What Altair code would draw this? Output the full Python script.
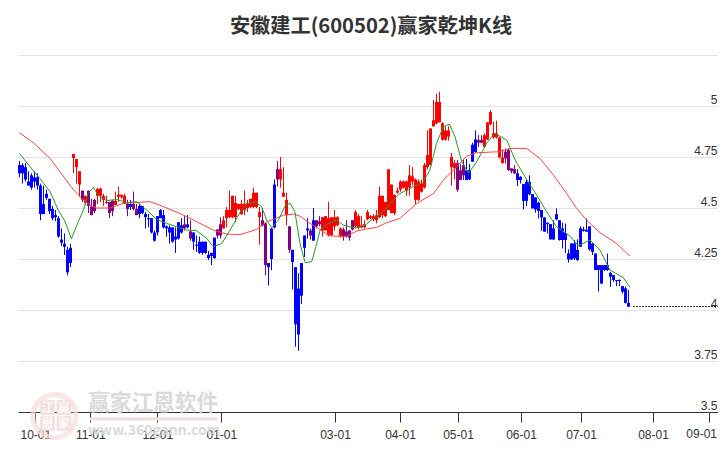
import altair as alt
import pandas as pd

TITLE = "安徽建工(600502)赢家乾坤K线"
FONT = "Noto Sans CJK SC"
LATIN = "Liberation Sans"

body_top = [4.71,4.71,4.70,4.63,4.66,4.65,4.65,4.61,4.52,4.57,4.545,4.495,4.465,4.45,4.345,4.325,4.295,4.305,
4.765,4.74,4.68,4.585,4.56,4.585,4.505,4.54,4.595,4.595,4.56,4.53,4.53,4.535,4.535,4.565,4.565,4.56,4.52,4.52,4.52,4.495,
4.51,4.51,4.47,4.45,4.45,4.38,4.46,4.49,4.465,4.41,4.405,4.405,4.36,4.43,4.415,4.42,4.42,4.385,4.38,4.32,
4.335,4.335,4.335,4.27,4.28,4.355,4.395,4.42,4.44,4.49,4.49,4.56,4.525,4.52,4.52,4.52,4.525,4.545,4.575,4.575,
4.48,4.44,4.425,4.23,4.40,4.615,4.69,4.69,4.575,4.54,4.41,4.295,4.21,4.105,4.23,4.365,4.40,4.39,4.44,4.44,
4.435,4.455,4.46,4.45,4.455,4.455,4.455,4.40,4.395,4.385,4.39,4.44,4.48,4.46,4.415,4.42,4.48,4.46,4.46,4.465,
4.56,4.56,4.53,4.69,4.615,4.565,4.585,4.63,4.63,4.63,4.66,4.655,4.64,4.63,4.62,4.71,4.76,4.89,4.93,5.02,
5.02,4.915,4.88,4.88,4.75,4.72,4.72,4.685,4.71,4.685,4.685,4.81,4.836,4.833,4.833,4.857,4.92,4.97,4.866,4.866,
4.846,4.748,4.776,4.784,4.694,4.69,4.67,4.653,4.617,4.628,4.628,4.568,4.552,4.526,4.49,4.454,4.428,4.421,4.40,4.47,
4.44,4.40,4.378,4.277,4.326,4.326,4.294,4.40,4.395,4.392,4.41,4.326,4.277,4.22,4.22,4.22,4.22,4.182,4.171,4.147,
4.147,4.117,4.106,4.035]
body_bot = [4.67,4.67,4.64,4.61,4.60,4.63,4.61,4.47,4.47,4.55,4.485,4.45,4.455,4.36,4.33,4.31,4.185,4.23,
4.745,4.70,4.615,4.54,4.525,4.51,4.465,4.485,4.56,4.56,4.54,4.525,4.475,4.485,4.515,4.555,4.555,4.52,4.495,4.505,4.495,4.465,
4.47,4.475,4.455,4.445,4.38,4.34,4.38,4.45,4.405,4.40,4.38,4.335,4.345,4.35,4.38,4.40,4.405,4.35,4.335,4.315,
4.28,4.28,4.28,4.255,4.265,4.255,4.365,4.365,4.40,4.45,4.455,4.455,4.455,4.495,4.47,4.49,4.50,4.505,4.505,4.505,
4.455,4.415,4.22,4.21,4.25,4.405,4.64,4.64,4.555,4.465,4.295,4.235,3.93,3.88,4.07,4.305,4.39,4.365,4.34,4.41,
4.42,4.39,4.39,4.365,4.365,4.41,4.415,4.36,4.36,4.36,4.355,4.395,4.41,4.405,4.405,4.405,4.445,4.45,4.445,4.44,
4.455,4.465,4.46,4.49,4.475,4.475,4.575,4.59,4.60,4.585,4.60,4.63,4.54,4.54,4.58,4.60,4.70,4.71,4.90,4.915,
4.92,4.835,4.835,4.85,4.70,4.695,4.59,4.637,4.66,4.637,4.64,4.727,4.775,4.82,4.82,4.80,4.836,4.91,4.846,4.846,
4.748,4.72,4.743,4.686,4.68,4.67,4.637,4.637,4.535,4.535,4.568,4.498,4.493,4.486,4.454,4.384,4.421,4.346,4.346,4.444,
4.343,4.343,4.343,4.248,4.248,4.253,4.245,4.31,4.388,4.384,4.297,4.285,4.196,4.196,4.13,4.196,4.196,4.163,4.147,4.142,
4.142,4.09,4.035,4.016]
high = [4.73,4.72,4.72,4.68,4.67,4.68,4.67,4.62,4.61,4.59,4.545,4.51,4.49,4.46,4.40,4.375,4.31,4.325,
4.765,4.74,4.68,4.585,4.56,4.585,4.545,4.545,4.595,4.60,4.57,4.56,4.53,4.54,4.58,4.605,4.565,4.57,4.54,4.54,4.58,4.52,
4.52,4.51,4.48,4.47,4.45,4.39,4.46,4.495,4.49,4.415,4.415,4.405,4.405,4.43,4.45,4.46,4.465,4.44,4.38,4.365,
4.36,4.335,4.335,4.29,4.28,4.355,4.395,4.455,4.46,4.505,4.585,4.56,4.56,4.52,4.54,4.585,4.54,4.545,4.60,4.575,
4.505,4.50,4.43,4.23,4.40,4.64,4.73,4.75,4.70,4.575,4.41,4.295,4.21,4.18,4.23,4.365,4.45,4.40,4.50,4.44,
4.46,4.455,4.46,4.53,4.455,4.49,4.46,4.405,4.405,4.44,4.39,4.44,4.49,4.47,4.46,4.44,4.49,4.465,4.47,4.49,
4.605,4.56,4.53,4.69,4.615,4.565,4.60,4.635,4.635,4.635,4.71,4.70,4.645,4.64,4.64,4.72,4.88,4.89,5.03,5.06,
5.07,4.92,4.90,4.90,4.77,4.735,4.735,4.715,4.735,4.74,4.715,4.82,4.88,4.857,4.857,4.866,4.92,4.98,4.923,4.928,
4.846,4.787,4.792,4.792,4.694,4.71,4.69,4.656,4.617,4.64,4.66,4.568,4.552,4.53,4.49,4.454,4.428,4.421,4.44,4.498,
4.44,4.428,4.424,4.297,4.326,4.343,4.346,4.41,4.408,4.449,4.41,4.326,4.277,4.22,4.22,4.22,4.277,4.187,4.171,4.147,
4.15,4.117,4.114,4.098]
low = [4.65,4.62,4.63,4.61,4.59,4.60,4.59,4.44,4.47,4.54,4.47,4.44,4.435,4.355,4.315,4.27,4.17,4.21,
4.67,4.62,4.555,4.53,4.515,4.475,4.465,4.475,4.52,4.53,4.51,4.52,4.45,4.46,4.515,4.53,4.545,4.52,4.46,4.49,4.49,4.465,
4.45,4.47,4.40,4.405,4.375,4.335,4.365,4.45,4.40,4.36,4.325,4.33,4.28,4.345,4.375,4.39,4.40,4.34,4.295,4.285,
4.275,4.27,4.275,4.245,4.22,4.25,4.35,4.35,4.40,4.405,4.45,4.45,4.43,4.49,4.465,4.465,4.48,4.50,4.50,4.50,
4.32,4.41,4.17,4.12,4.195,4.40,4.605,4.60,4.555,4.415,4.28,4.10,3.82,3.80,4.03,4.26,4.35,4.345,4.34,4.40,
4.41,4.36,4.39,4.36,4.36,4.39,4.41,4.355,4.34,4.355,4.34,4.39,4.40,4.395,4.40,4.40,4.44,4.445,4.435,4.425,
4.45,4.45,4.455,4.49,4.475,4.465,4.57,4.58,4.595,4.56,4.56,4.61,4.52,4.535,4.575,4.595,4.69,4.71,4.90,4.91,
4.92,4.83,4.83,4.83,4.61,4.64,4.58,4.637,4.637,4.637,4.637,4.727,4.77,4.80,4.817,4.797,4.833,4.906,4.84,4.84,
4.743,4.718,4.718,4.683,4.67,4.666,4.607,4.62,4.493,4.51,4.563,4.498,4.477,4.449,4.388,4.384,4.375,4.346,4.343,4.44,
4.34,4.302,4.28,4.232,4.245,4.245,4.241,4.31,4.384,4.384,4.29,4.27,4.196,4.09,4.127,4.192,4.192,4.114,4.138,4.117,
4.117,4.081,4.032,4.016]
# r = up, b = down, p = the purple stretches
tone = (["b"]*18 + ["r"]*3 + ["p","r","p","p","p"] + ["r"]*4 + ["p","p"] + ["r"]*4 +
        ["p","b","p","p","b","b"] + ["b"]*13 + ["p","b","p"] + ["b"]*8 + ["p","p"] + ["r"]*13 +
        ["p","p","b","b","b","p","r","r","r","p"] + ["b"]*6 + ["p","b","p","p"] +
        ["r"]*7 + ["p"]*4 + ["r"]*34 + ["p"]*3 + ["b"]*4 + ["p"]*2 +
        ["r"]*7 + ["p"]*4 + ["b"]*40)

red_i = [0,4.6,10.2,13.5,17.4,20.7,23.5,25.7,30.2,34.6,38,43.5,46.8,50.2,53.5,58,61.3,64.6,69,73.5,
75.7,79,82.4,84.6,88,91.3,93.5,96.8,100.2,102.4,104.6,109,112.4,115.7,119,122.4,
126.8,132.4,138,141.3,145.7,149,152.4,160.2,163.5,169,173.5,178,182.4,185.7,189,193.5,199,203.5]
red_p = [4.869,4.82,4.743,4.678,4.60,4.547,4.514,4.50,4.50,4.523,4.526,4.531,4.514,4.493,4.473,4.441,4.416,4.392,4.372,4.37,
4.379,4.395,4.433,4.444,4.465,4.47,4.46,4.425,4.395,4.372,4.362,4.362,4.387,4.397,4.405,4.428,
4.449,4.522,4.571,4.637,4.702,4.754,4.771,4.776,4.792,4.792,4.743,4.661,4.571,4.498,4.441,4.379,4.326,4.264]
green_i = [0,3.5,6.8,10.2,12.9,15.2,17.3,19.6,21.3,22.9,24.6,26.3,29,32.4,35.7,39,42.4,45.7,49,52.4,55.7,59,62.4,64.6,67.4,70.2,73.5,
75.7,78.5,80.7,82.4,84.1,86.3,88.5,90.2,91.8,93.5,95.2,97.4,98.8,100.2,102.4,105.7,107.9,111.2,114.6,117.9,121.2,124.6,
126.8,130.2,134.6,136.8,139,141.3,143.3,145.2,147.4,149.7,152.4,155.7,158.4,162.4,165.2,168.5,172.4,175.7,179,183.5,186.3,190.2,193.5,196.8,201.2,203.5]
green_p = [4.768,4.702,4.645,4.58,4.49,4.433,4.349,4.433,4.49,4.572,4.601,4.563,4.536,4.542,4.526,4.531,4.49,4.444,4.425,4.408,4.392,4.389,4.351,4.31,4.326,4.392,4.478,
4.519,4.531,4.506,4.441,4.403,4.441,4.51,4.523,4.482,4.326,4.232,4.237,4.31,4.392,4.42,4.441,4.416,4.403,4.408,4.449,4.482,4.539,
4.571,4.596,4.629,4.686,4.817,4.898,4.911,4.849,4.727,4.67,4.727,4.817,4.866,4.833,4.735,4.653,4.563,4.482,4.408,4.362,4.315,4.343,4.294,4.196,4.16,4.111]
future_i = [204.5, 232.8]
future_p = [4.017, 4.017]

tick_pos = [5.27,23.6,45.93,67.27,105.17,126.83,146.17,167.17,187.17,211.17,229.83]
tick_txt = ["10-01","11-01","12-01","01-01","03-01","04-01","05-01","06-01","07-01","08-01","09-01"]
price_ticks = [3.5,3.75,4,4.25,4.5,4.75,5,5.25]
XDOM = [-0.5, 232.83]
YDOM = [3.5, 5.25]

n = len(body_top)
tone = tone[:n]
candles = pd.DataFrame({"i": range(n), "top": body_top, "bot": body_bot, "high": high, "low": low, "tone": tone})
color = alt.Color("tone:N", legend=None, scale=alt.Scale(domain=["r","b","p"], range=["#ff0000","#0000ff","#800080"]))

# the last date label sits a little left of its tick so that it stays on the page
label_expr = "{" + ",".join(f"'{p}':'{t}'" for p, t in zip(tick_pos[:-1], tick_txt[:-1])) + "}[datum.value+'']||''"
x_enc = alt.X("i:Q", scale=alt.Scale(domain=XDOM, nice=False, zero=False, padding=0),
    axis=alt.Axis(values=tick_pos, labelExpr=label_expr, title=None, grid=False, domainColor="#333333", tickColor="#333333",
                  tickSize=10, labelFontSize=12, labelFont=LATIN, labelColor="#333333", labelPadding=7, labelFlush=False, labelOverlap=False))
y_enc = alt.Y("low:Q", scale=alt.Scale(domain=YDOM, nice=False, zero=False),
    axis=alt.Axis(orient="right", values=price_ticks, labelExpr="datum.value>5?'':datum.value+''", title=None, grid=True,
                  gridColor="#e4e4e4", domain=False, ticks=False, labelFontSize=12, labelFont=LATIN, labelColor="#333333",
                  labelAlign="right", labelBaseline="bottom", labelPadding=-1, labelOverlap=False, zindex=0))

def one(**kw):
    return pd.DataFrame([kw])

# watermark (positions relative to the plot area)
wm = []
wm.append(alt.Chart(one(a=1)).mark_point(shape="circle", filled=False, stroke="#f8dcdc", strokeWidth=5, size=1850).encode(x=alt.value(36.5), y=alt.value(361)))
for px, py, ch in [(47.5,407.5,"江"),(64,407.5,"赢"),(47.5,423.5,"恩"),(64,423.5,"家")]:
    wm.append(alt.Chart(one(a=1)).mark_square(color="#f8dcdc", size=210, opacity=1).encode(x=alt.value(px-18), y=alt.value(py-55)))
    wm.append(alt.Chart(one(t=ch)).mark_text(font=FONT, fontSize=12, color="#ffffff", fontWeight="bold").encode(x=alt.value(px-18), y=alt.value(py-55), text="t:N"))
wm.append(alt.Chart(one(t="赢家江恩软件")).mark_text(font=FONT, fontSize=21.7, color="#dadada", fontWeight="bold", align="left").encode(x=alt.value(70), y=alt.value(347.5), text="t:N"))
wm.append(alt.Chart(one(a=1)).mark_rule(color="#f3dcdc", strokeWidth=3).encode(x=alt.value(72), x2=alt.value(199), y=alt.value(364)))
wm.append(alt.Chart(one(t="www.360gann.com")).mark_text(font=FONT, fontSize=14, color="#dadada", fontWeight="bold", align="left").encode(x=alt.value(70), y=alt.value(376), text="t:N"))

base = alt.Chart(candles)
wick = base.mark_rule(strokeWidth=1).encode(x=x_enc, y=y_enc, y2="high:Q", color=color)
body = base.mark_bar(size=3).encode(x="i:Q", y="top:Q", y2="bot:Q", color=color)
red_line = alt.Chart(pd.DataFrame({"i": red_i, "low": red_p})).mark_line(color="#ff4444", strokeWidth=1).encode(x="i:Q", y="low:Q")
green_line = alt.Chart(pd.DataFrame({"i": green_i, "low": green_p})).mark_line(color="#2a982a", strokeWidth=1).encode(x="i:Q", y="low:Q")
future = alt.Chart(pd.DataFrame({"i": future_i, "low": future_p})).mark_line(color="#333333", strokeWidth=1, strokeDash=[2,1]).encode(x="i:Q", y="low:Q")
title = alt.Chart(one(t=TITLE)).mark_text(font=FONT, fontSize=20.2, fontWeight="bold", color="#333333").encode(x=alt.value(353), y=alt.value(-28.5), text="t:N")
last_label = alt.Chart(one(t=tick_txt[-1], i=tick_pos[-1])).mark_text(font=LATIN, fontSize=12, color="#333333", align="right", dx=8).encode(
    x="i:Q", y=alt.value(379), text="t:N")

chart = alt.layer(*wm, wick, body, red_line, green_line, future, title, last_label).properties(
    width=700, height=357, padding={"left": 10, "top": 47, "right": 0, "bottom": 30},
    autosize=alt.AutoSizeParams(type="none"), background="#ffffff"
).configure_view(stroke=None)

chart.save("out.html", embed_options={"renderer": "svg", "actions": False})
